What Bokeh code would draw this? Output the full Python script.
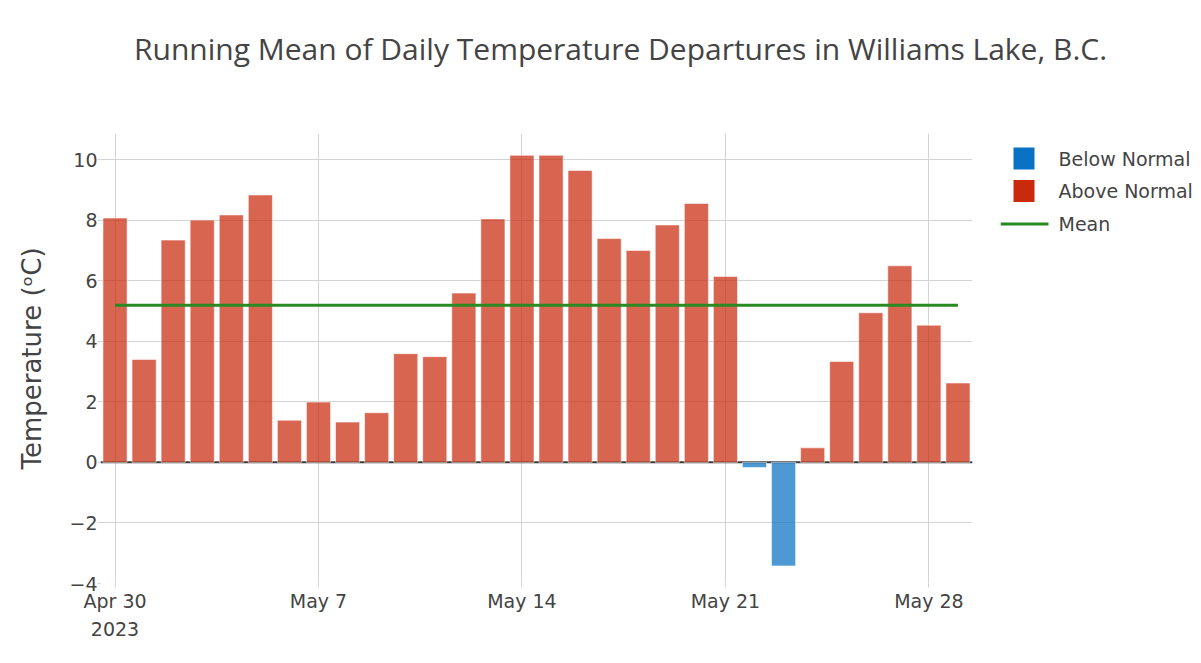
import pandas as pd
from bokeh.plotting import figure
from bokeh.layouts import row, column
from bokeh.models import ColumnDataSource, FixedTicker, Span, Range1d
from bokeh.core.properties import value
from bokeh.embed import file_html
from bokeh.resources import INLINE

# ---------------- data ----------------
dates = pd.date_range("2023-04-30", "2023-05-29", freq="D")
departures = [8.07, 3.40, 7.34, 8.00, 8.17, 8.83, 1.39, 1.99, 1.33, 1.64,
              3.59, 3.49, 5.59, 8.04, 10.14, 10.14, 9.64, 7.39, 7.00, 7.84,
              8.55, 6.14, -0.17, -3.42, 0.48, 3.33, 4.94, 6.49, 4.53, 2.62]
mean_value = 5.19
tick_dates = ["2023-04-30", "2023-05-07", "2023-05-14", "2023-05-21", "2023-05-28"]
tick_labels = ["Apr 30\n2023", "May 7", "May 14", "May 21", "May 28"]
y_ticks = [-4, -2, 0, 2, 4, 6, 8, 10]
y_tick_labels = ["\u22124", "\u22122", "0", "2", "4", "6", "8", "10"]
series_names = ["Below Normal", "Above Normal", "Mean"]
title_text = "Running Mean of Daily Temperature Departures in Williams Lake, B.C."
y_title = "Temperature (\u1d52C)"

# ---------------- style / layout (page pixels) ----------------
RED = "#c92a0c"
BLUE = "#0a72c4"
GREEN = "#2a8a22"
TXT = "#444444"
GRID = "#d3d3d3"
FONT = "DejaVu Sans"
DAY = 86400000
W, H = 1199, 660
TITLE_H = 110
FRAME_L, FRAME_R, FRAME_T, FRAME_B = 100, 972, 133, 583
W_MAIN = 1000
W_LEG = W - W_MAIN
H_BODY = H - TITLE_H


def bare(fig):
    fig.outline_line_color = None
    fig.grid.visible = False
    fig.background_fill_color = "white"
    fig.border_fill_color = "white"


# ---------------- title strip ----------------
tf = figure(width=W, height=TITLE_H, x_range=Range1d(FRAME_L, W), y_range=Range1d(TITLE_H, 0),
            x_axis_type=None, y_axis_type=None, output_backend="svg", toolbar_location=None,
            min_border_left=FRAME_L, min_border_right=0, min_border_top=0, min_border_bottom=0)
bare(tf)
tf.text(x=[620], y=[48], text=[title_text], text_font=value("Open Sans"),
        text_font_size="30px", text_color=TXT, text_align="center",
        text_baseline="alphabetic")

# ---------------- main chart ----------------
x_start = dates[0] - pd.Timedelta(hours=12)
x_end = dates[-1] + pd.Timedelta(hours=12)

p = figure(width=W_MAIN, height=H_BODY, x_axis_type="datetime",
           x_range=(x_start, x_end), y_range=(-4, 10.86),
           output_backend="svg", toolbar_location=None,
           min_border_left=FRAME_L, min_border_right=W_MAIN - FRAME_R,
           min_border_top=FRAME_T - TITLE_H, min_border_bottom=H - FRAME_B)
p.outline_line_color = None
p.background_fill_color = "white"
p.border_fill_color = "white"

x_tick_ms = [pd.Timestamp(d).value // 10**6 for d in tick_dates]
xticker = FixedTicker(ticks=x_tick_ms)
yticker = FixedTicker(ticks=y_ticks)
p.xaxis.ticker = xticker
p.yaxis.ticker = yticker
p.xgrid.ticker = xticker
p.ygrid.ticker = yticker
p.xaxis.major_label_overrides = {t: l for t, l in zip(x_tick_ms, tick_labels)}
p.yaxis.major_label_overrides = {t: l for t, l in zip(y_ticks, y_tick_labels)}

for ax in (p.xaxis, p.yaxis):
    ax.axis_line_color = None
    ax.major_tick_line_color = GRID
    ax.major_tick_out = 4
    ax.major_tick_in = 0
    ax.minor_tick_line_color = None
    ax.major_label_text_font = FONT
    ax.major_label_text_font_size = "19px"
    ax.major_label_text_color = TXT
p.yaxis.major_tick_out = 3
p.xaxis.major_label_standoff = 2
p.xaxis.major_label_text_line_height = 1.3
p.yaxis.major_label_standoff = 0

p.yaxis.axis_label = y_title
p.yaxis.axis_label_text_font = FONT
p.yaxis.axis_label_text_font_size = "26px"
p.yaxis.axis_label_text_font_style = "normal"
p.yaxis.axis_label_text_color = TXT
p.yaxis.axis_label_standoff = 19

for g in (p.xgrid, p.ygrid):
    g.grid_line_color = GRID
    g.grid_line_width = 1

p.add_layout(Span(location=0, dimension="width", line_color="#3a3a3a",
                  line_width=2, level="underlay"))

above = [i for i, v in enumerate(departures) if v >= 0]
below = [i for i, v in enumerate(departures) if v < 0]
src_above = ColumnDataSource(dict(x=[dates[i] for i in above], top=[departures[i] for i in above]))
src_below = ColumnDataSource(dict(x=[dates[i] for i in below], top=[departures[i] for i in below]))

p.vbar(x="x", top="top", bottom=0, width=0.83 * DAY, source=src_above,
       fill_color=RED, fill_alpha=0.72, line_color="white", line_alpha=0.55, line_width=1)
p.vbar(x="x", top="top", bottom=0, width=0.83 * DAY, source=src_below,
       fill_color=BLUE, fill_alpha=0.72, line_color="white", line_alpha=0.55, line_width=1)

p.line(x=[dates[0], dates[-1]], y=[mean_value, mean_value],
       line_color=GREEN, line_width=3)

# ---------------- legend panel (page-pixel coordinates) ----------------
lf = figure(width=W_LEG, height=H_BODY, x_range=Range1d(W_MAIN, W),
            y_range=Range1d(FRAME_B, FRAME_T), x_axis_type=None, y_axis_type=None,
            output_backend="svg", toolbar_location=None,
            min_border_left=0, min_border_right=0,
            min_border_top=FRAME_T - TITLE_H, min_border_bottom=H - FRAME_B)
bare(lf)

row_y = [158, 190.5, 223.5]
lf.rect(x=[1023.5, 1023.5], y=row_y[:2], width=21, height=22,
        fill_color=[BLUE, RED], line_color=None)
lf.line(x=[1000, 1048], y=[row_y[2], row_y[2]], line_color=GREEN, line_width=3)
lf.text(x=[1058] * 3, y=row_y, text=series_names, text_font=value(FONT),
        text_font_size="19px", text_color=TXT, text_baseline="middle", text_align="left")

layout = column(tf, row(p, lf, spacing=0), spacing=0)
open("out.html", "w").write(file_html(layout, INLINE))
